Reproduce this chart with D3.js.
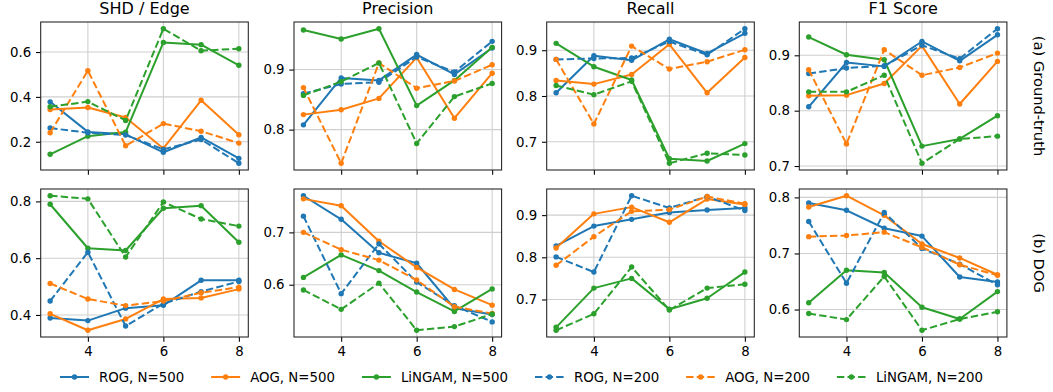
<!DOCTYPE html>
<html>
<head>
<meta charset="utf-8">
<script src="https://cdn.jsdelivr.net/npm/d3@7"></script>
<style>
  body { margin: 0; background: #fff; }
  text { font-family: "DejaVu Sans", sans-serif; fill: #000; }
</style>
</head>
<body>
<div id="chart"></div>
<script>
// x values: number of nodes
const nodes = [3, 4, 5, 6, 7, 8];

// series order in every panel list below
const seriesNames = ['ROG, N=500', 'AOG, N=500', 'LiNGAM, N=500', 'ROG, N=200', 'AOG, N=200', 'LiNGAM, N=200'];
const seriesColors = ['#1f77b4', '#ff7f0e', '#2ca02c', '#1f77b4', '#ff7f0e', '#2ca02c'];
const seriesDashed = [false, false, false, true, true, true];

const colTitles = ['SHD / Edge', 'Precision', 'Recall', 'F1 Score'];
const rowLabels = ['(a) Ground-truth', '(b) DOG'];

// row (a) Ground-truth
const gtShd = [
  [0.378, 0.244, 0.233, 0.153, 0.219, 0.126],
  [0.344, 0.353, 0.308, 0.170, 0.385, 0.231],
  [0.144, 0.225, 0.243, 0.643, 0.633, 0.541],
  [0.261, 0.240, 0.230, 0.166, 0.210, 0.104],
  [0.240, 0.517, 0.182, 0.281, 0.247, 0.194],
  [0.356, 0.379, 0.295, 0.704, 0.606, 0.615]
];
const gtPrecision = [
  [0.808, 0.886, 0.882, 0.925, 0.892, 0.936],
  [0.825, 0.833, 0.852, 0.920, 0.819, 0.894],
  [0.966, 0.951, 0.968, 0.840, 0.882, 0.937],
  [0.860, 0.876, 0.879, 0.921, 0.896, 0.947],
  [0.870, 0.744, 0.911, 0.869, 0.881, 0.908],
  [0.857, 0.880, 0.911, 0.777, 0.855, 0.877]
];
const gtRecall = [
  [0.807, 0.888, 0.878, 0.924, 0.893, 0.937],
  [0.834, 0.826, 0.847, 0.913, 0.807, 0.884],
  [0.915, 0.864, 0.835, 0.663, 0.658, 0.696],
  [0.880, 0.882, 0.883, 0.919, 0.890, 0.947],
  [0.880, 0.739, 0.909, 0.859, 0.875, 0.901],
  [0.823, 0.803, 0.832, 0.653, 0.675, 0.671]
];
const gtF1 = [
  [0.807, 0.887, 0.880, 0.925, 0.890, 0.937],
  [0.827, 0.828, 0.849, 0.917, 0.812, 0.889],
  [0.933, 0.901, 0.892, 0.736, 0.749, 0.791],
  [0.867, 0.877, 0.881, 0.918, 0.894, 0.948],
  [0.874, 0.740, 0.910, 0.864, 0.878, 0.904],
  [0.834, 0.834, 0.864, 0.705, 0.749, 0.754]
];

// row (b) DOG
const dogShd = [
  [0.389, 0.380, 0.424, 0.434, 0.522, 0.522],
  [0.404, 0.346, 0.386, 0.456, 0.460, 0.491],
  [0.790, 0.635, 0.627, 0.776, 0.785, 0.656],
  [0.449, 0.621, 0.361, 0.440, 0.482, 0.518],
  [0.511, 0.456, 0.433, 0.449, 0.478, 0.498],
  [0.820, 0.809, 0.604, 0.798, 0.738, 0.713]
];
const dogPrecision = [
  [0.770, 0.725, 0.661, 0.641, 0.555, 0.543],
  [0.764, 0.751, 0.683, 0.633, 0.591, 0.561],
  [0.614, 0.657, 0.627, 0.586, 0.549, 0.592],
  [0.731, 0.583, 0.678, 0.605, 0.560, 0.529],
  [0.700, 0.667, 0.647, 0.609, 0.558, 0.545],
  [0.590, 0.553, 0.603, 0.513, 0.520, 0.544]
];
const dogRecall = [
  [0.827, 0.874, 0.890, 0.906, 0.912, 0.917],
  [0.822, 0.903, 0.919, 0.883, 0.938, 0.925],
  [0.634, 0.727, 0.750, 0.677, 0.703, 0.765],
  [0.801, 0.765, 0.946, 0.917, 0.944, 0.911],
  [0.781, 0.849, 0.909, 0.913, 0.944, 0.927],
  [0.627, 0.666, 0.777, 0.675, 0.727, 0.736]
];
const dogF1 = [
  [0.790, 0.777, 0.745, 0.731, 0.658, 0.649],
  [0.783, 0.803, 0.768, 0.717, 0.692, 0.662],
  [0.612, 0.670, 0.666, 0.604, 0.583, 0.632],
  [0.757, 0.647, 0.773, 0.709, 0.681, 0.644],
  [0.730, 0.732, 0.738, 0.711, 0.680, 0.661],
  [0.593, 0.582, 0.659, 0.563, 0.583, 0.596]
];

// y tick values per panel
const gtTicks = [[0.2, 0.4, 0.6], [0.8, 0.9], [0.7, 0.8, 0.9], [0.7, 0.8, 0.9]];
const dogTicks = [[0.4, 0.6, 0.8], [0.6, 0.7], [0.7, 0.8, 0.9], [0.6, 0.7, 0.8]];
const xTicks = [4, 6, 8];

const panels = [
  [gtShd, gtPrecision, gtRecall, gtF1],
  [dogShd, dogPrecision, dogRecall, dogF1]
];
const ticks = [gtTicks, dogTicks];

const W = 1053, H = 392;
const axLeft = [40.7, 294, 546.7, 799.3];
const axTop = [22, 189];
const axW = 207.6, axH = 148;
const tickLen = 4.7, tickPad = 4.7;

const svg = d3.select('#chart').append('svg')
  .attr('width', W)
  .attr('height', H);

// matplotlib style: data range plus 5% margin
function padded(lo, hi) {
  const m = (hi - lo) * 0.05;
  return [lo - m, hi + m];
}

panels.forEach((row, r) => {
  row.forEach((series, c) => {
    const g = svg.append('g')
      .attr('transform', 'translate(' + axLeft[c] + ',' + axTop[r] + ')');

    const x = d3.scaleLinear()
      .domain(padded(d3.min(nodes), d3.max(nodes)))
      .range([0, axW]);
    const allVals = series.flat();
    const y = d3.scaleLinear()
      .domain(padded(d3.min(allVals), d3.max(allVals)))
      .range([axH, 0]);

    // grid
    g.append('g').selectAll('line.gx').data(xTicks).enter().append('line')
      .attr('x1', d => x(d)).attr('x2', d => x(d))
      .attr('y1', 0).attr('y2', axH)
      .attr('stroke', '#cfcfcf').attr('stroke-width', 1.07);
    g.append('g').selectAll('line.gy').data(ticks[r][c]).enter().append('line')
      .attr('x1', 0).attr('x2', axW)
      .attr('y1', d => y(d)).attr('y2', d => y(d))
      .attr('stroke', '#cfcfcf').attr('stroke-width', 1.07);

    // axes
    const xAxis = d3.axisBottom(x).tickValues(xTicks)
      .tickSize(tickLen).tickPadding(tickPad)
      .tickFormat(r === 1 ? d3.format('d') : '');
    const gx = g.append('g')
      .attr('transform', 'translate(0,' + axH + ')')
      .call(xAxis);
    const yAxis = d3.axisLeft(y).tickValues(ticks[r][c])
      .tickSize(tickLen).tickPadding(tickPad)
      .tickFormat(d3.format('.1f'));
    const gy = g.append('g').call(yAxis);
    [gx, gy].forEach(a => {
      a.select('.domain').remove();
      a.selectAll('.tick line').attr('stroke', '#000').attr('stroke-width', 1.07);
      a.selectAll('.tick text')
        .style('font-family', '"DejaVu Sans", sans-serif')
        .style('font-size', '13.33px')
        .attr('fill', '#000');
    });

    // lines and markers, in legend order
    const line = d3.line()
      .x((d, i) => x(nodes[i]))
      .y(d => y(d));
    series.forEach((vals, s) => {
      g.append('path')
        .datum(vals)
        .attr('d', line)
        .attr('fill', 'none')
        .attr('stroke', seriesColors[s])
        .attr('stroke-width', 2)
        .attr('stroke-linejoin', 'round')
        .attr('stroke-dasharray', seriesDashed[s] ? '7.4,3.2' : null);
      g.append('g').selectAll('circle').data(vals).enter().append('circle')
        .attr('cx', (d, i) => x(nodes[i]))
        .attr('cy', d => y(d))
        .attr('r', 2.7)
        .attr('fill', seriesColors[s]);
    });

    // frame
    g.append('rect')
      .attr('width', axW).attr('height', axH)
      .attr('fill', 'none')
      .attr('stroke', '#222').attr('stroke-width', 1.07);

    if (r === 0) {
      g.append('text')
        .attr('x', axW / 2).attr('y', -8)
        .attr('text-anchor', 'middle')
        .style('font-size', '16px')
        .text(colTitles[c]);
    }
  });

  // row label on the right
  svg.append('text')
    .attr('transform', 'translate(1034,' + (axTop[r] + axH / 2) + ') rotate(90)')
    .attr('text-anchor', 'middle')
    .style('font-size', '14.67px')
    .text(rowLabels[r]);
});

// legend
const legend = svg.append('g').attr('transform', 'translate(60,377)');
let lx = 0;
seriesNames.forEach((name, s) => {
  const item = legend.append('g').attr('transform', 'translate(' + lx + ',0)');
  item.append('line')
    .attr('x1', 0).attr('x2', 29)
    .attr('stroke', seriesColors[s])
    .attr('stroke-width', 2)
    .attr('stroke-dasharray', seriesDashed[s] ? '7.4,3.2' : null);
  item.append('circle')
    .attr('cx', 14.5).attr('r', 2.7)
    .attr('fill', seriesColors[s]);
  const t = item.append('text')
    .attr('x', 39).attr('dy', '0.35em')
    .style('font-size', '13.33px')
    .text(name);
  lx += 39 + t.node().getComputedTextLength() + 27;
});
</script>
</body>
</html>
